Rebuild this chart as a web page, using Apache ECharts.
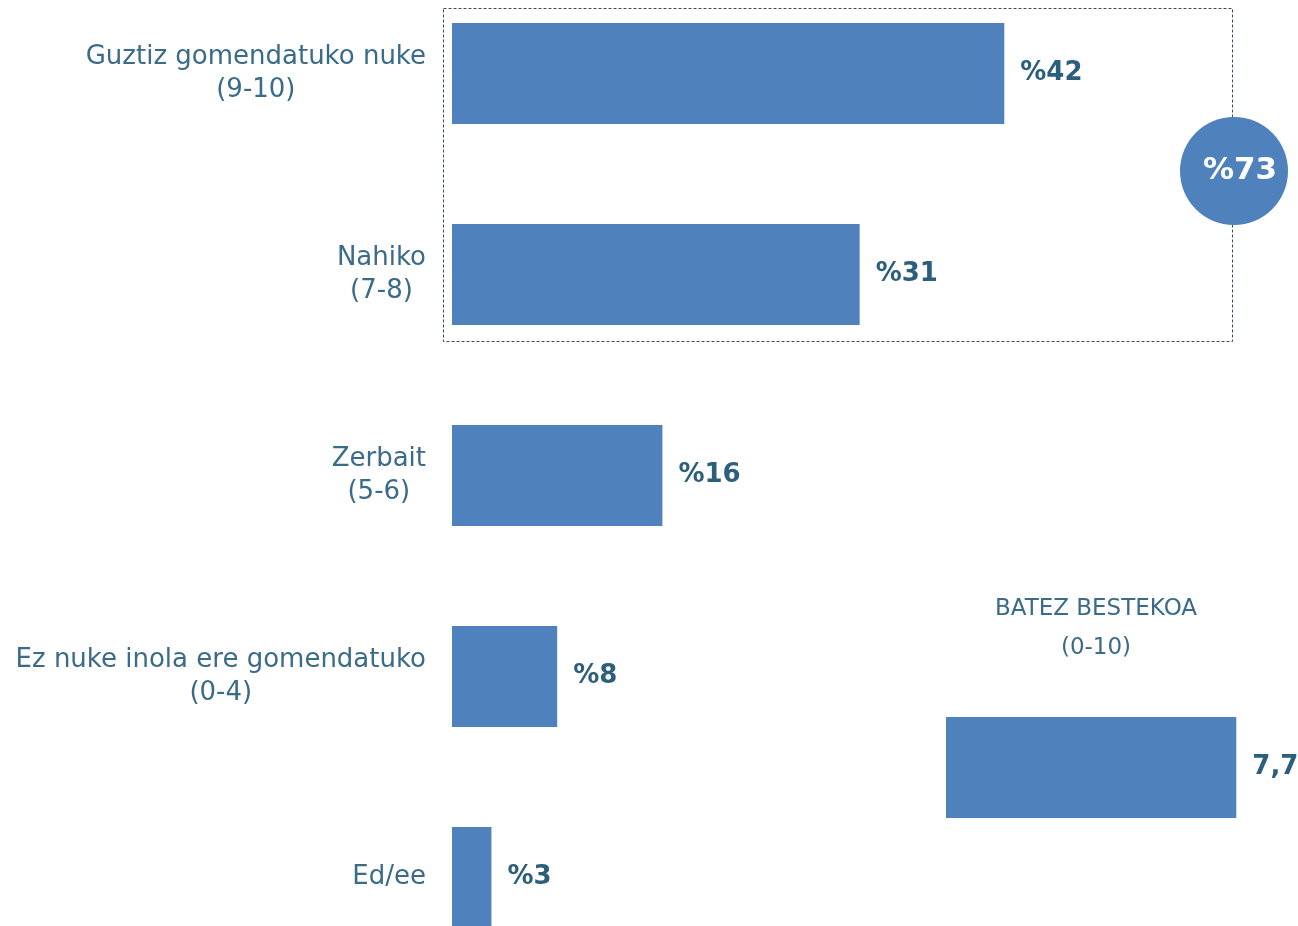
<!DOCTYPE html>
<html>
<head>
<meta charset="utf-8">
<script src="https://cdn.jsdelivr.net/npm/echarts@6/dist/echarts.min.js"></script>
<style>
  html, body { margin: 0; padding: 0; background: #fff; }
  #chart { width: 1298px; height: 926px; }
</style>
</head>
<body>
<div id="chart"></div>
<script>
// data
const categories = [
  'Guztiz gomendatuko nuke\n(9-10)',
  'Nahiko\n(7-8)',
  'Zerbait\n(5-6)',
  'Ez nuke inola ere gomendatuko\n(0-4)',
  'Ed/ee'
];
const shares = [42, 31, 16, 8, 3];
const recommendTotal = 73;          // 9-10 + 7-8, shown in the circle
const averageLabel = ['BATEZ BESTEKOA', '(0-10)'];
const averageValue = [7.7];

const barColor = '#4F81BD';
const labelColor = '#3A6B88';
const valueColor = '#2C5F7C';
const font = 'DejaVu Sans';

const chart = echarts.init(document.getElementById('chart'));

const option = {
  backgroundColor: '#fff',
  animation: false,
  title: {
    text: averageLabel.join('\n'),
    left: 1091,
    top: 585,
    textAlign: 'center',
    textStyle: {
      fontFamily: font,
      fontWeight: 'normal',
      fontSize: 23,
      lineHeight: 39,
      color: labelColor
    }
  },
  grid: [
    { left: 452, top: -27, width: 789, height: 1005, outerBoundsMode: 'none' },
    { left: 946, top: 667, width: 377, height: 201, outerBoundsMode: 'none' }
  ],
  xAxis: [
    { gridIndex: 0, type: 'value', min: 0, max: 60, show: false },
    { gridIndex: 1, type: 'value', min: 0, max: 10, show: false }
  ],
  yAxis: [
    {
      gridIndex: 0,
      type: 'category',
      inverse: true,
      data: categories,
      axisLine: { show: false },
      axisTick: { show: false },
      axisLabel: {
        margin: 26,
        align: 'right',
        formatter: v => v.split('\n').map(s => '{a|' + s + '}').join('\n'),
        rich: {
          a: {
            align: 'center',
            fontFamily: font,
            fontSize: 26,
            lineHeight: 33,
            color: labelColor
          }
        }
      }
    },
    {
      gridIndex: 1,
      type: 'category',
      data: [''],
      show: false
    }
  ],
  series: [
    {
      type: 'bar',
      xAxisIndex: 0,
      yAxisIndex: 0,
      barWidth: 101,
      data: shares,
      itemStyle: { color: barColor },
      label: {
        show: true,
        position: 'right',
        distance: 16,
        formatter: '%{c}',
        fontFamily: font,
        fontWeight: 'bold',
        fontSize: 26,
        color: valueColor
      }
    },
    {
      type: 'bar',
      xAxisIndex: 1,
      yAxisIndex: 1,
      barWidth: 101,
      data: averageValue,
      itemStyle: { color: barColor },
      label: {
        show: true,
        position: 'right',
        distance: 16,
        formatter: p => String(p.value).replace('.', ','),
        fontFamily: font,
        fontWeight: 'bold',
        fontSize: 26,
        color: valueColor
      }
    }
  ],
  graphic: [
    {
      type: 'rect',
      shape: { x: 443.5, y: 8.5, width: 789, height: 333 },
      style: { fill: 'none', stroke: '#3B4A66', lineWidth: 1, lineDash: [3, 2] },
      z: 1
    },
    {
      type: 'circle',
      shape: { cx: 1234, cy: 171, r: 54 },
      style: { fill: barColor },
      z: 10
    },
    {
      type: 'text',
      x: 1240,
      y: 171,
      style: {
        text: '%' + recommendTotal,
        align: 'center',
        verticalAlign: 'middle',
        fontFamily: font,
        fontWeight: 'bold',
        fontSize: 31,
        fill: '#fff'
      },
      z: 11
    }
  ]
};

chart.setOption(option);
</script>
</body>
</html>
